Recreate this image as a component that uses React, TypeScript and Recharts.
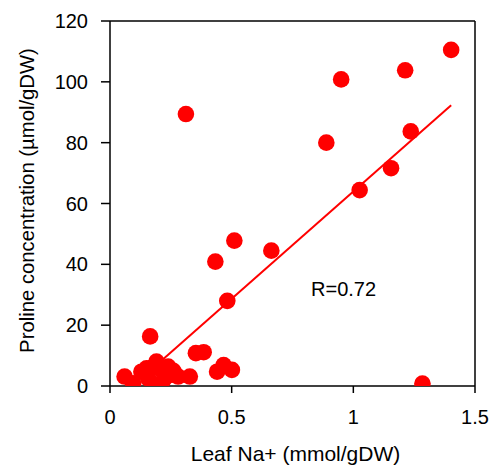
import { ScatterChart, Scatter, XAxis, YAxis, ReferenceLine, ReferenceDot } from 'recharts'

// leaf Na+ (mmol/gDW) vs proline (µmol/gDW)
const leafNa = [0.06, 0.095, 0.129, 0.15, 0.157, 0.165, 0.17, 0.191, 0.198, 0.21, 0.22, 0.239, 0.246, 0.26, 0.28, 0.328, 0.312, 0.353, 0.385, 0.44, 0.467, 0.501, 0.433, 0.482, 0.511, 0.663, 0.889, 0.95, 1.026, 1.155, 1.213, 1.236, 1.284, 1.402]
const proline = [3.1, 0.9, 4.7, 5.8, 2.5, 16.3, 6.0, 8.0, 0.3, 5.5, 2.0, 6.4, 3.6, 5.0, 3.1, 3.1, 89.4, 10.8, 11.1, 4.7, 6.9, 5.3, 40.9, 28.0, 47.8, 44.5, 80.0, 100.8, 64.4, 71.6, 103.8, 83.7, 0.8, 110.5]

// fitted line end points
const trendX = [0.19, 1.402]
const trendY = [6.8, 92.3]

const xTicks = [0, 0.5, 1, 1.5]
const yTicks = [0, 20, 40, 60, 80, 100, 120]

const points = leafNa.map((x, i) => ({ x, y: proline[i] }))
const trend = trendX.map((x, i) => ({ x, y: trendY[i] }))

const FONT = '"Liberation Sans", Arial, sans-serif'
const RED = '#ff0000'

const Dot = (p: any) => <circle cx={p.cx} cy={p.cy} r={8.3} fill={RED} />

const XTitle = (p: any) => {
  const vb = p.viewBox
  return (
    <text x={vb.x + vb.width / 2 + 3} y={vb.y + 75} textAnchor="middle" fontSize={21} fontFamily={FONT} fill="#000">
      Leaf Na+ (mmol/gDW)
    </text>
  )
}

const YTitle = (p: any) => {
  const vb = p.viewBox
  const cx = 27
  const cy = vb.y + vb.height / 2 - 3
  return (
    <text x={cx} y={cy} transform={`rotate(-90, ${cx}, ${cy})`} textAnchor="middle" dominantBaseline="central" fontSize={20.3} fontFamily={FONT} fill="#000">
      Proline concentration (µmol/gDW)
    </text>
  )
}

export default function App() {
  const tickStyle = { fill: '#000', fontSize: 20, fontFamily: FONT }
  return (
    <div style={{ position: 'absolute', left: 0, top: 0, background: '#fff' }}>
      <ScatterChart width={493} height={465} margin={{ top: 21, right: 18, bottom: 0, left: 0 }}>
        <XAxis
          type="number"
          dataKey="x"
          domain={[0, 1.5]}
          ticks={xTicks}
          height={79}
          tick={tickStyle}
          tickSize={7}
          tickMargin={17}
          axisLine={{ stroke: '#000', strokeWidth: 1.5 }}
          tickLine={{ stroke: '#000', strokeWidth: 1.5 }}
          label={<XTitle />}
          allowDataOverflow
        />
        <YAxis
          type="number"
          dataKey="y"
          domain={[0, 120]}
          ticks={yTicks}
          width={110}
          tick={tickStyle}
          tickSize={9}
          tickMargin={13}
          axisLine={{ stroke: '#000', strokeWidth: 1.5 }}
          tickLine={{ stroke: '#000', strokeWidth: 1.5 }}
          label={<YTitle />}
          allowDataOverflow
        />
        <ReferenceLine y={120} stroke="#000" strokeWidth={1.5} />
        <ReferenceLine x={1.5} stroke="#000" strokeWidth={1.5} />
        <Scatter data={trend} line={{ stroke: RED, strokeWidth: 2 }} shape={() => <g />} isAnimationActive={false} />
        <Scatter data={points} shape={Dot} isAnimationActive={false} />
        <ReferenceDot
          x={0.96}
          y={32}
          r={0}
          fill="none"
          stroke="none"
          label={{ value: 'R=0.72', position: 'center', fontSize: 20, fontFamily: FONT, fill: '#000' }}
        />
      </ScatterChart>
    </div>
  )
}
